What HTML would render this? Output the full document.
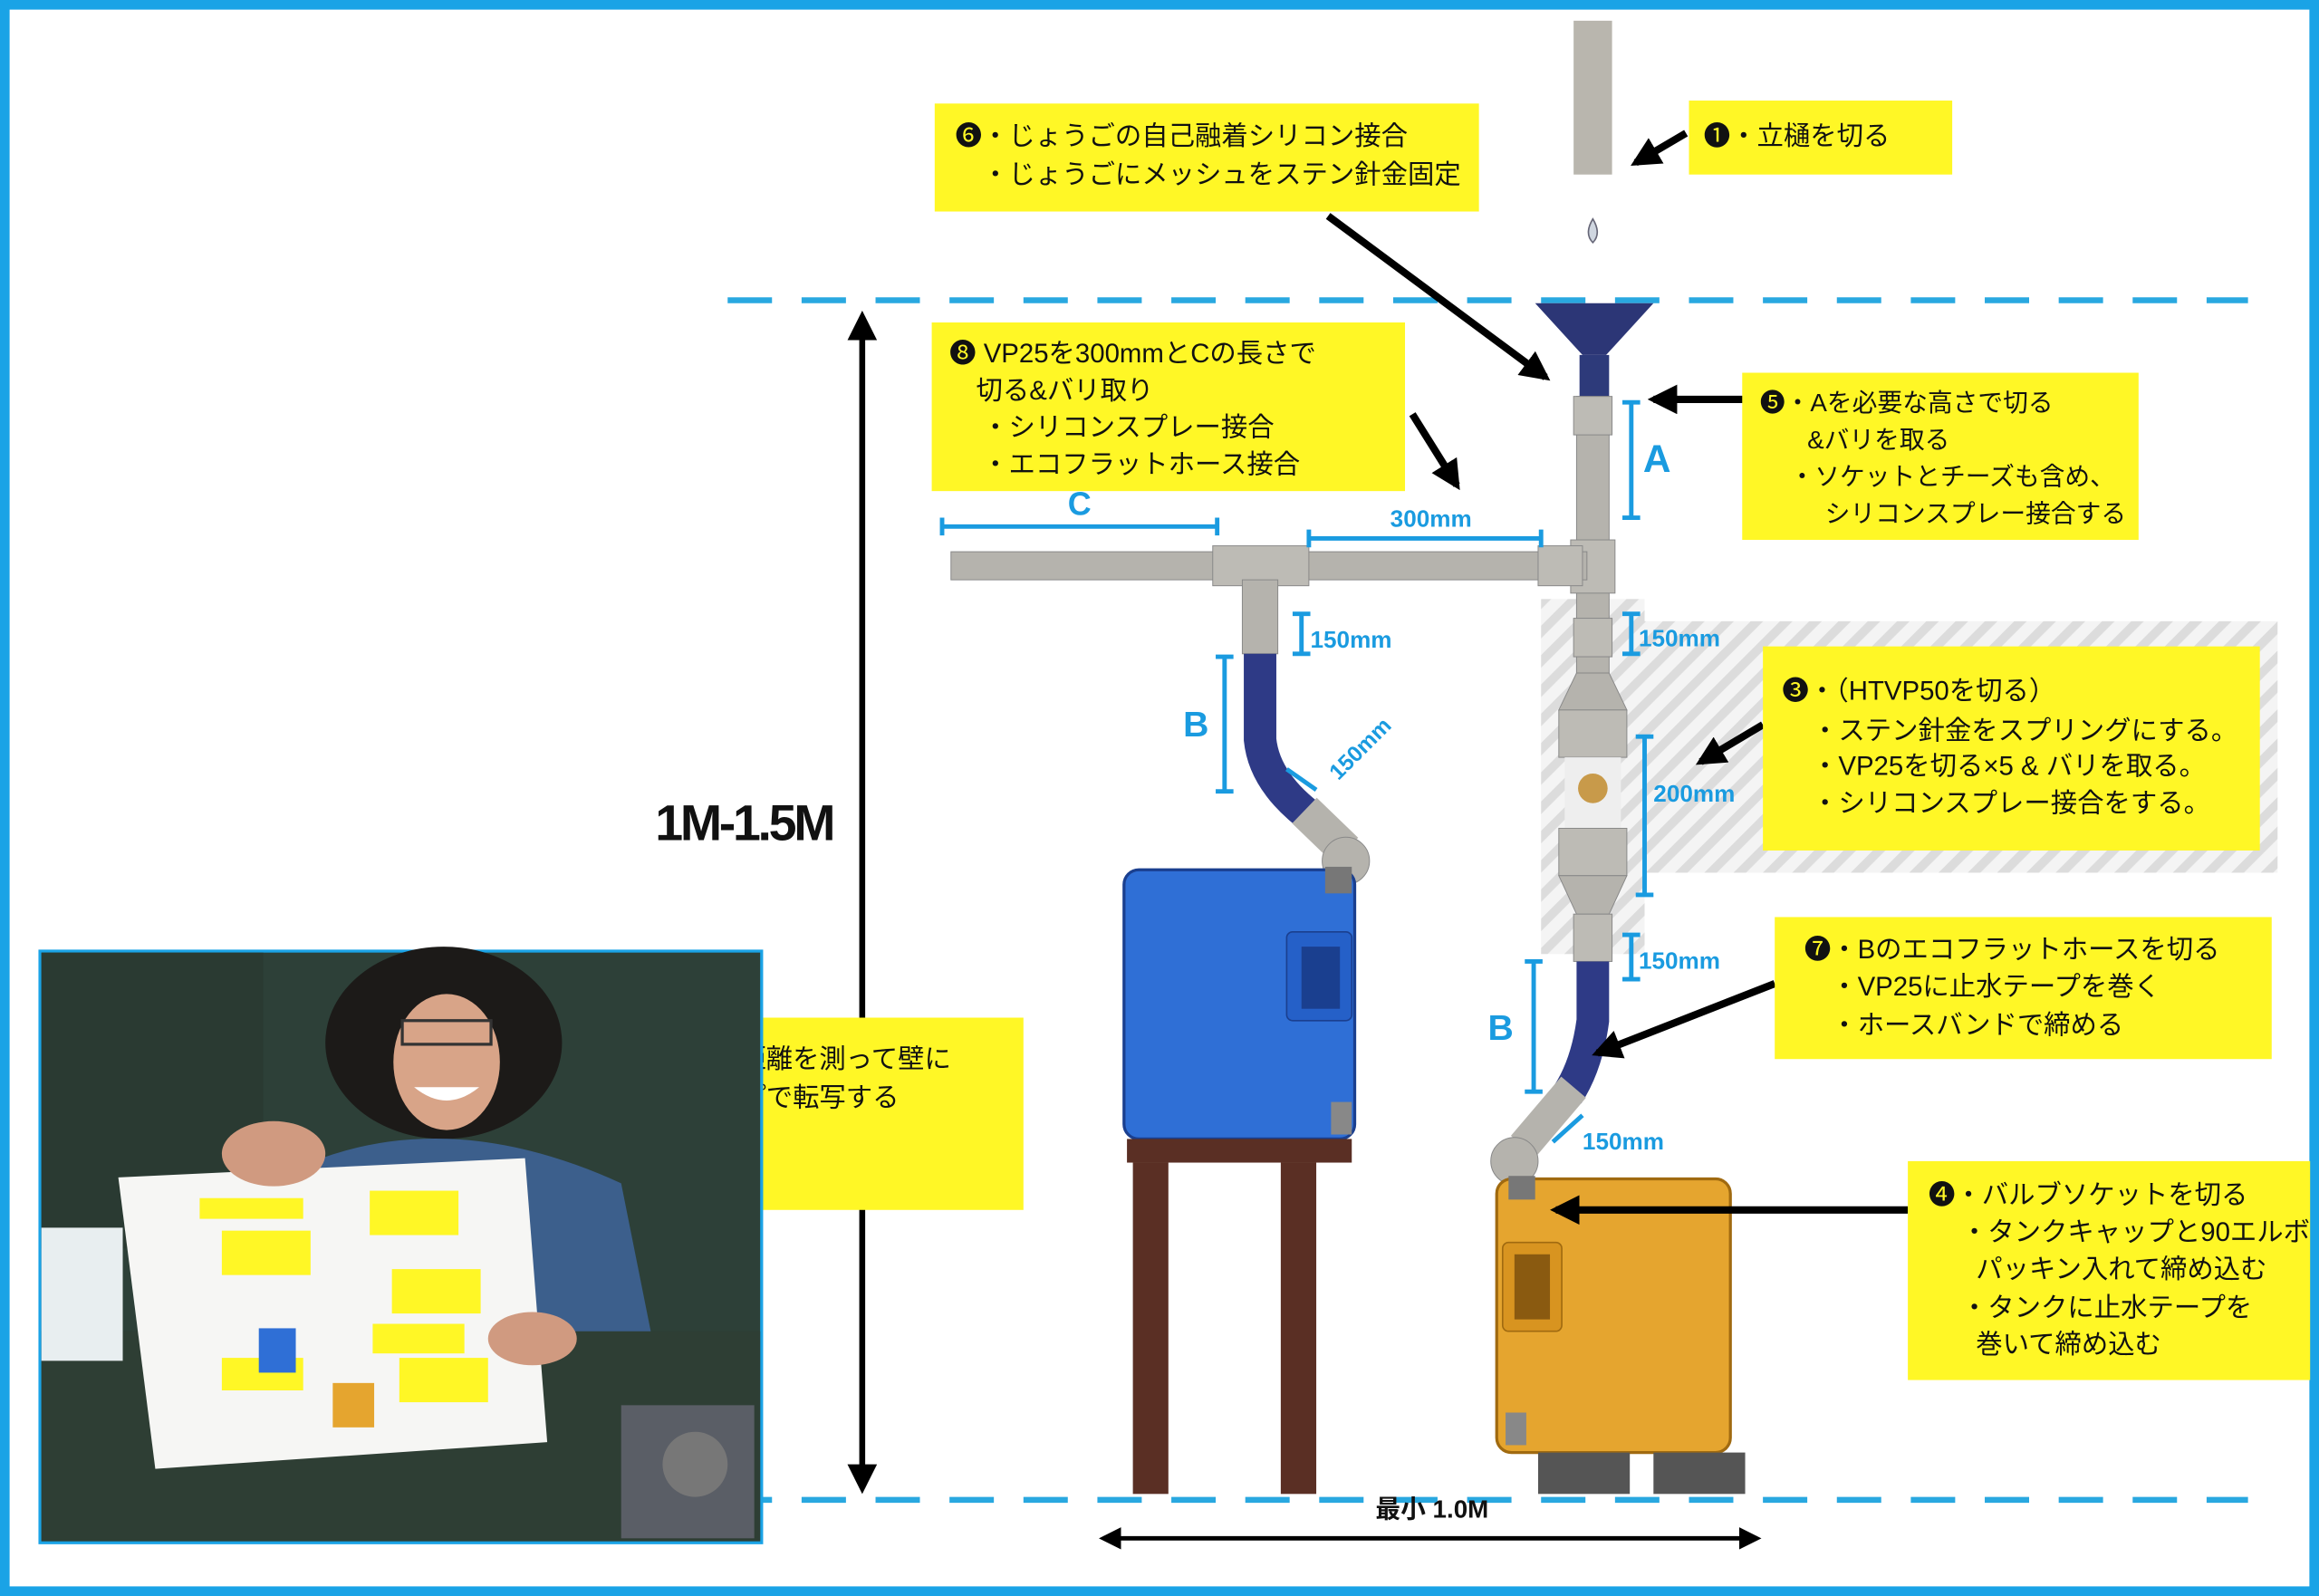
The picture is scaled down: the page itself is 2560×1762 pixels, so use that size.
<!DOCTYPE html>
<html><head><meta charset="utf-8"><style>
html,body{margin:0;padding:0;background:#fff}
svg{display:block}
text{font-family:"Liberation Sans","Noto Sans CJK JP",sans-serif}
.y{fill:#fff726}
.t{font-size:18px;fill:#111}
.b{fill:#1a9be0;font-weight:bold}
</style></head><body>
<svg width="2560" height="1762" viewBox="0 0 1568 1079" preserveAspectRatio="none" xmlns="http://www.w3.org/2000/svg">
<defs>
<marker id="ah" viewBox="0 0 10 10" refX="8" refY="5" markerWidth="5" markerHeight="5" orient="auto-start-reverse"><path d="M0,0L10,5L0,10z" fill="#000"/></marker>
<marker id="ah2" viewBox="0 0 10 10" refX="8" refY="5" markerWidth="4" markerHeight="4" orient="auto-start-reverse"><path d="M0,0L10,5L0,10z" fill="#000"/></marker>
<pattern id="hatch" width="14" height="14" patternUnits="userSpaceOnUse" patternTransform="rotate(45)"><rect width="14" height="14" fill="#f4f4f4"/><rect width="6" height="14" fill="#dcdcdc"/></pattern>
</defs>
<rect width="1568" height="1079" fill="#fff"/>
<rect x="3" y="3" width="1562" height="1073" fill="none" stroke="#1aa3e6" stroke-width="7"/>
<rect x="1042" y="405" width="70" height="240" fill="url(#hatch)"/>
<rect x="1110" y="420" width="430" height="170" fill="url(#hatch)"/>
<line x1="492" y1="203" x2="1520" y2="203" stroke="#29a8e0" stroke-width="4" stroke-dasharray="30,20"/>
<line x1="492" y1="1014" x2="1520" y2="1014" stroke="#29a8e0" stroke-width="4" stroke-dasharray="30,20"/>
<line x1="583" y1="214" x2="583" y2="1006" stroke="#000" stroke-width="4" marker-start="url(#ah)" marker-end="url(#ah)"/>
<text x="443" y="568" font-size="34" font-weight="bold" fill="#111" textLength="122">1M-1.5M</text>
<line x1="746" y1="1040" x2="1188" y2="1040" stroke="#000" stroke-width="3" marker-start="url(#ah)" marker-end="url(#ah)"/>
<text x="930" y="1026" font-size="17" font-weight="bold" fill="#111">最小 1.0M</text>
<rect x="1064" y="14" width="26" height="104" fill="#b9b6ae"/>
<path d="M1077,148 q-6,10 0,16 q6,-6 0,-16z" fill="#cfd6e0" stroke="#667" stroke-width="1"/>
<polygon points="1038,205 1118,205 1086,240 1070,240" fill="#2c3676"/>
<rect x="1068" y="240" width="20" height="28" fill="#2d3a7a"/>
<rect x="1066" y="268" width="22" height="380" fill="#b5b3ad" stroke="#888" stroke-width="0.6"/>
<rect x="1064" y="268" width="26" height="26" fill="#bdbbb5" stroke="#888" stroke-width="0.6"/>
<rect x="1062" y="365" width="30" height="36" fill="#bdbbb5" stroke="#888" stroke-width="0.6"/>
<rect x="1064" y="418" width="26" height="26" fill="#bdbbb5" stroke="#888" stroke-width="0.6"/>
<polygon points="1066,455 1088,455 1100,480 1054,480" fill="#b5b3ad" stroke="#888" stroke-width="0.6"/>
<rect x="1054" y="480" width="46" height="32" fill="#bdbbb5" stroke="#888" stroke-width="0.6"/>
<rect x="1058" y="512" width="38" height="48" fill="#eeeeee"/>
<circle cx="1077" cy="533" r="10" fill="#c89a4a"/>
<rect x="1054" y="560" width="46" height="32" fill="#bdbbb5" stroke="#888" stroke-width="0.6"/>
<polygon points="1054,592 1100,592 1088,618 1066,618" fill="#b5b3ad" stroke="#888" stroke-width="0.6"/>
<rect x="1064" y="618" width="26" height="32" fill="#bdbbb5" stroke="#888" stroke-width="0.6"/>
<rect x="643" y="373" width="430" height="19" fill="#b5b3ad" stroke="#888" stroke-width="0.6"/>
<rect x="820" y="369" width="65" height="27" fill="#bdbbb5" stroke="#888" stroke-width="0.6"/>
<rect x="1040" y="369" width="30" height="27" fill="#bdbbb5" stroke="#888" stroke-width="0.6"/>
<rect x="840" y="392" width="24" height="50" fill="#b5b3ad" stroke="#888" stroke-width="0.6"/>
<path d="M852,442 L852,500 Q855,530 890,555" stroke="#2e3a86" stroke-width="22" fill="none"/>
<path d="M882,548 L910,575" stroke="#b5b3ad" stroke-width="24"/>
<circle cx="910" cy="582" r="16" fill="#b5b3ad" stroke="#888" stroke-width="0.6"/>
<rect x="760" y="588" width="156" height="182" rx="10" fill="#2f6fd6" stroke="#1a3f8f" stroke-width="2"/>
<rect x="870" y="630" width="44" height="60" rx="4" fill="#2560c8" stroke="#1a3f8f"/>
<rect x="880" y="640" width="26" height="42" fill="#1a3f8f"/>
<rect x="900" y="745" width="14" height="22" fill="#888"/>
<rect x="896" y="586" width="18" height="18" fill="#777"/>
<rect x="762" y="770" width="152" height="16" fill="#5a2f24"/>
<rect x="766" y="786" width="24" height="224" fill="#5a2f24"/>
<rect x="866" y="786" width="24" height="224" fill="#5a2f24"/>
<path d="M1077,650 L1077,690 Q1073,720 1060,740" stroke="#2e3a86" stroke-width="22" fill="none"/>
<path d="M1064,735 L1030,775" stroke="#b5b3ad" stroke-width="22"/>
<circle cx="1024" cy="785" r="16" fill="#b5b3ad" stroke="#888" stroke-width="0.6"/>
<rect x="1012" y="797" width="158" height="185" rx="10" fill="#e5a52f" stroke="#a06a10" stroke-width="2"/>
<rect x="1016" y="840" width="40" height="60" rx="4" fill="#d89420" stroke="#a06a10"/>
<rect x="1024" y="848" width="24" height="44" fill="#8a5a10"/>
<rect x="1018" y="955" width="14" height="22" fill="#888"/>
<rect x="1020" y="795" width="18" height="16" fill="#777"/>
<rect x="1040" y="982" width="62" height="28" fill="#555"/>
<rect x="1118" y="982" width="62" height="28" fill="#555"/>
<g stroke="#1a9be0" stroke-width="3" fill="none">
<path d="M1103,272V350M1097,272h12M1097,350h12"/>
<path d="M637,356H823M637,350v12M823,350v12"/>
<path d="M885,364H1042M885,358v12M1042,358v12"/>
<path d="M880,415V442M874,415h12M874,442h12"/>
<path d="M828,444V535M822,444h12M822,535h12"/>
<path d="M1103,415V442M1097,415h12M1097,442h12"/>
<path d="M1112,498V605M1106,498h12M1106,605h12"/>
<path d="M1103,632V662M1097,632h12M1097,662h12"/>
<path d="M1037,650V738M1031,650h12M1031,738h12"/>
<path d="M870,520l20,14"/>
<path d="M1050,772l20,-18"/>
</g>
<text x="1111" y="319" font-size="26" class="b">A</text>
<text x="722" y="348" font-size="22" class="b">C</text>
<text x="940" y="356" font-size="16" class="b">300mm</text>
<text x="886" y="438" font-size="16" class="b">150mm</text>
<text x="800" y="498" font-size="24" class="b">B</text>
<text x="1108" y="437" font-size="16" class="b">150mm</text>
<text x="1118" y="542" font-size="16" class="b">200mm</text>
<text x="1108" y="655" font-size="16" class="b">150mm</text>
<text x="1006" y="703" font-size="24" class="b">B</text>
<text x="1070" y="777" font-size="16" class="b">150mm</text>
<text x="905" y="528" font-size="15" class="b" transform="rotate(-45 905 528)">150mm</text>
<g stroke="#000" stroke-width="5" fill="none">
<line x1="1140" y1="90" x2="1106" y2="110" marker-end="url(#ah2)"/>
<line x1="898" y1="146" x2="1045" y2="255" marker-end="url(#ah2)"/>
<line x1="1180" y1="270" x2="1118" y2="270" marker-end="url(#ah2)"/>
<line x1="955" y1="280" x2="985" y2="328" marker-end="url(#ah2)"/>
<line x1="1192" y1="490" x2="1150" y2="515" marker-end="url(#ah2)"/>
<line x1="1200" y1="665" x2="1080" y2="712" marker-end="url(#ah2)"/>
<line x1="1290" y1="818" x2="1052" y2="818" marker-end="url(#ah2)"/>
</g>
<rect x="632" y="70" width="368" height="73" class="y"/>
<text class="t"><tspan x="646" y="98">❻・じょうごの自己融着シリコン接合</tspan><tspan x="664" y="124">・じょうごにメッシュをステン針金固定</tspan></text>
<rect x="1142" y="68" width="178" height="50" class="y"/>
<text x="1152" y="98" class="t">❶・立樋を切る</text>
<rect x="630" y="218" width="320" height="114" class="y"/>
<text class="t"><tspan x="642" y="245">❽ VP25を300mmとCの長さで</tspan><tspan x="660" y="270">切る&amp;バリ取り</tspan><tspan x="664" y="295">・シリコンスプレー接合</tspan><tspan x="664" y="320">・エコフラットホース接合</tspan></text>
<rect x="1178" y="252" width="268" height="113" class="y"/>
<text class="t" style="font-size:17px"><tspan x="1190" y="278">❺・Aを必要な高さで切る</tspan><tspan x="1222" y="303">&amp;バリを取る</tspan><tspan x="1210" y="328">・ソケットとチーズも含め、</tspan><tspan x="1234" y="353">シリコンスプレー接合する</tspan></text>
<rect x="1192" y="437" width="336" height="138" class="y"/>
<text class="t"><tspan x="1205" y="473">❸・（HTVP50を切る）</tspan><tspan x="1225" y="500">・ステン針金をスプリングにする。</tspan><tspan x="1225" y="524">・VP25を切る×5 &amp; バリを取る。</tspan><tspan x="1225" y="549">・シリコンスプレー接合をする。</tspan></text>
<rect x="1200" y="620" width="336" height="96" class="y"/>
<text class="t"><tspan x="1220" y="648">❼・Bのエコフラットホースを切る</tspan><tspan x="1238" y="673">・VP25に止水テープを巻く</tspan><tspan x="1238" y="699">・ホースバンドで締める</tspan></text>
<rect x="1290" y="785" width="272" height="148" class="y"/>
<text class="t"><tspan x="1304" y="814">❹・バルブソケットを切る</tspan><tspan x="1326" y="839">・タンクキャップと90エルボ</tspan><tspan x="1336" y="864">パッキン入れて締め込む</tspan><tspan x="1326" y="890">・タンクに止水テープを</tspan><tspan x="1336" y="915">巻いて締め込む</tspan></text>
<rect x="500" y="688" width="192" height="130" class="y"/>
<text class="t"><tspan x="500" y="722">距離を測って壁に</tspan><tspan x="500" y="748">プで転写する</tspan></text>
<rect x="27" y="643" width="488" height="400" fill="#2d4038" stroke="#1aa3e6" stroke-width="2"/>
<rect x="28" y="644" width="150" height="200" fill="#2a3a32"/>
<rect x="28" y="900" width="486" height="142" fill="#2e3e34"/>
<rect x="28" y="830" width="55" height="90" fill="#e8eef0"/>
<ellipse cx="300" cy="705" rx="80" ry="65" fill="#1c1a18"/>
<ellipse cx="302" cy="718" rx="36" ry="46" fill="#d8a488"/>
<path d="M200,790 Q300,745 420,800 L440,900 L180,900z" fill="#3c5f8c"/>
<rect x="272" y="690" width="60" height="16" fill="none" stroke="#333" stroke-width="2"/>
<path d="M280,735 q22,18 44,0z" fill="#fff"/>
<polygon points="80,796 355,783 370,975 105,993" fill="#f6f6f4"/>
<ellipse cx="185" cy="780" rx="35" ry="22" fill="#d09a80"/>
<ellipse cx="360" cy="905" rx="30" ry="18" fill="#d09a80"/>
<rect x="135" y="810" width="70" height="14" fill="#fff726"/>
<rect x="150" y="832" width="60" height="30" fill="#fff726"/>
<rect x="250" y="805" width="60" height="30" fill="#fff726"/>
<rect x="265" y="858" width="60" height="30" fill="#fff726"/>
<rect x="252" y="895" width="62" height="20" fill="#fff726"/>
<rect x="270" y="918" width="60" height="30" fill="#fff726"/>
<rect x="150" y="918" width="55" height="22" fill="#fff726"/>
<rect x="175" y="898" width="25" height="30" fill="#2f6fd6"/>
<rect x="225" y="935" width="28" height="30" fill="#e5a52f"/>
<rect x="420" y="950" width="90" height="90" fill="#5a5e66"/>
<circle cx="470" cy="990" r="22" fill="#777"/>
</svg>
</body></html>
